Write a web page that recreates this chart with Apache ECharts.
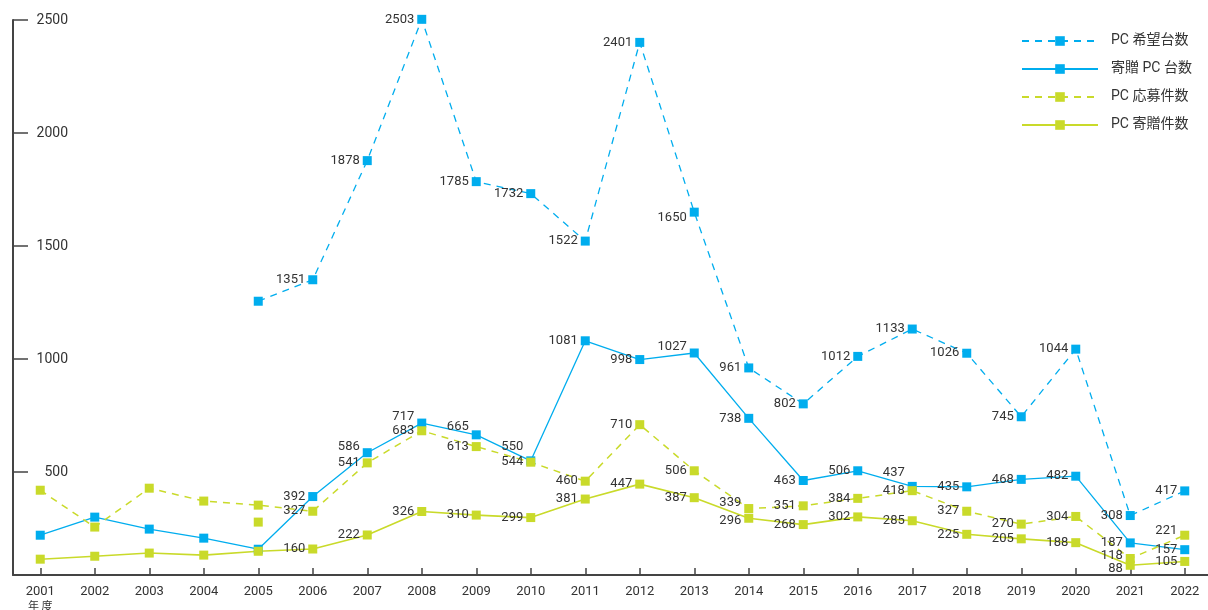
<!DOCTYPE html>
<html>
<head>
<meta charset="utf-8">
<script src="https://cdn.jsdelivr.net/npm/echarts@6/dist/echarts.min.js"></script>
<style>
html,body{margin:0;padding:0;background:#fff;}
#chart{width:1208px;height:610px;}
</style>
</head>
<body>
<div id="chart"></div>
<script>
// ---- data ----
const years = ['2001','2002','2003','2004','2005','2006','2007','2008','2009','2010','2011',
               '2012','2013','2014','2015','2016','2017','2018','2019','2020','2021','2022'];
const unlabeledYears = ['2001','2002','2003','2004','2005'];
const pcRequested = [null, null, null, null, 1256, 1351, 1878, 2503, 1785, 1732, 1522,
                     2401, 1650, 961, 802, 1012, 1133, 1026, 745, 1044, 308, 417];
const pcDonated   = [221, 301, 248, 208, 159, 392, 586, 717, 665, 550, 1081,
                     998, 1027, 738, 463, 506, 437, 435, 468, 482, 187, 157];
const applications = [420, 257, 429, 372, 354, 327, 541, 683, 613, 544, 460,
                      710, 506, 339, 351, 384, 418, 327, 270, 304, 118, 221];
const extraApplication2005 = [null, null, null, null, 279, null, null, null, null, null, null,
                              null, null, null, null, null, null, null, null, null, null, null];
const donations = [115, 128, 142, 133, 150, 160, 222, 326, 310, 299, 381,
                   447, 387, 296, 268, 302, 285, 225, 205, 188, 88, 105];
const yTicks = [500, 1000, 1500, 2000, 2500];
const seriesNames = ['PC 希望台数', '寄贈 PC 台数', 'PC 応募件数', 'PC 寄贈件数'];

// vertical nudges (px) for crowded value labels, by series then year
const labelNudges = {
  'PC 希望台数': { '2013': 6 },
  '寄贈 PC 台数': { '2007': -6, '2008': -6, '2009': -8, '2010': -14, '2013': -6, '2017': -14 },
  'PC 応募件数': { '2014': -6, '2021': -3, '2022': -4 },
  'PC 寄贈件数': { '2014': 2, '2021': 3 }
};

const BLUE = '#00ADEE';
const GREEN = '#C9DA2A';
const TEXT = '#333';
const LABEL_FONT = 'Roboto, "Liberation Sans", sans-serif';

function withLabels(arr) {
  return arr.map((v, i) => {
    if (v === null) return null;
    if (unlabeledYears.indexOf(years[i]) >= 0) return { value: v, label: { show: false } };
    return v;
  });
}

const labelStyle = {
  show: true,
  position: 'left',
  distance: 3,
  color: TEXT,
  fontFamily: LABEL_FONT,
  fontSize: 13
};

function lineSeries(name, arr, color, dashed, width) {
  const nudges = labelNudges[name] || {};
  return {
    name: name,
    type: 'line',
    data: withLabels(arr),
    symbol: 'rect',
    symbolSize: 9,
    showAllSymbol: true,
    clip: false,
    itemStyle: { color: color },
    lineStyle: { color: color, width: width, type: dashed ? [7, 6] : 'solid' },
    label: labelStyle,
    labelLayout: function (p) {
      const d = nudges[years[p.dataIndex]];
      return d ? { dy: d, hideOverlap: false } : { hideOverlap: false };
    },
    emphasis: { disabled: true },
    animation: false,
    z: 2
  };
}

const chart = echarts.init(document.getElementById('chart'), null, { renderer: 'canvas' });
chart.setOption({
  backgroundColor: '#fff',
  animation: false,
  grid: { left: 13, right: -4, top: 20, bottom: 35, containLabel: false, outerBoundsMode: 'none' },
  legend: {
    data: seriesNames,
    orient: 'vertical',
    left: 1016,
    top: 29,
    itemWidth: 76,
    itemHeight: 12,
    itemGap: 14,
    textStyle: { color: TEXT, fontSize: 14, fontFamily: 'Roboto, "Noto Sans CJK JP", sans-serif', padding: [0, 0, 0, 8] }
  },
  xAxis: {
    type: 'category',
    data: years,
    boundaryGap: true,
    axisLine: { show: true, lineStyle: { color: '#444', width: 2 } },
    axisTick: { show: true, inside: true, length: 7, alignWithLabel: true, lineStyle: { color: '#444', width: 1.5 } },
    axisLabel: {
      color: TEXT,
      fontSize: 13,
      fontFamily: 'Roboto, "Noto Sans CJK JP", sans-serif',
      margin: 9,
      interval: 0,
      lineHeight: 15,
      formatter: (v, i) => i === 0 ? v + '\n{s|年 度}' : v,
      rich: { s: { fontSize: 11, color: TEXT, fontFamily: '"Noto Sans CJK JP", sans-serif', lineHeight: 14 } }
    },
    splitLine: { show: false }
  },
  yAxis: {
    type: 'value',
    min: 45,
    max: 2500,
    axisLine: { show: true, lineStyle: { color: '#444', width: 2 } },
    axisTick: { show: true, inside: true, length: 15, customValues: yTicks, lineStyle: { color: '#444', width: 1.5 } },
    axisLabel: {
      inside: true,
      align: 'right',
      margin: 55,
      color: TEXT,
      fontSize: 14,
      fontFamily: 'Roboto, sans-serif',
      customValues: yTicks,
      formatter: v => String(v)
    },
    splitLine: { show: false }
  },
  series: [
    lineSeries(seriesNames[0], pcRequested, BLUE, true, 1.3),
    lineSeries(seriesNames[1], pcDonated, BLUE, false, 1.3),
    lineSeries(seriesNames[2], applications, GREEN, true, 1.5),
    lineSeries(seriesNames[3], donations, GREEN, false, 1.6),
    {
      name: 'PC 応募件数 2005',
      type: 'scatter',
      data: extraApplication2005,
      symbol: 'rect',
      symbolSize: 9,
      itemStyle: { color: GREEN, opacity: 1 },
      emphasis: { disabled: true },
      z: 2
    }
  ]
});
</script>
</body>
</html>
